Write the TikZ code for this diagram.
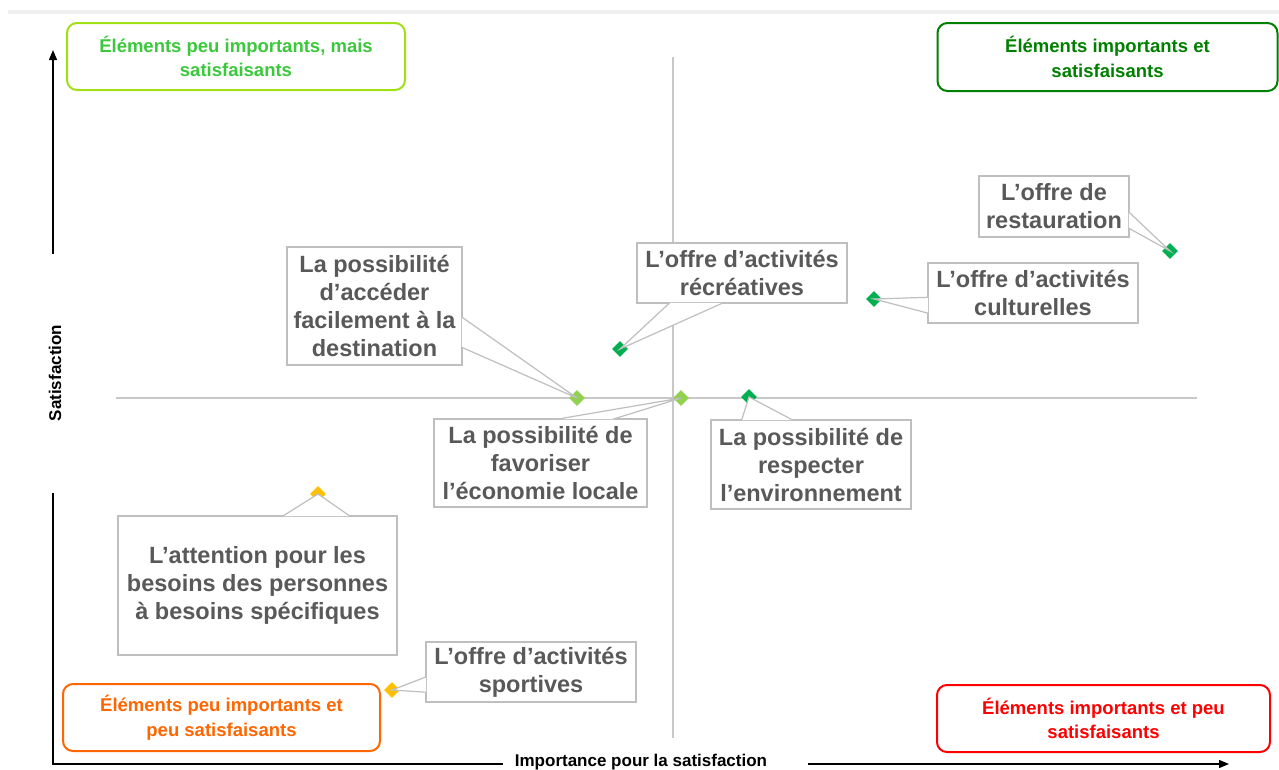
\documentclass[tikz,border=0pt]{standalone}
\usepackage{fontspec}
\setmainfont{Liberation Sans}
\usepackage{xcolor}
\usepackage{tikz}
\usetikzlibrary{shapes.geometric,arrows.meta,calc}

\definecolor{lightgr}{RGB}{146,208,80}
\definecolor{darkgr}{RGB}{0,176,80}
\definecolor{goldpt}{RGB}{255,192,0}
\definecolor{notegray}{RGB}{191,191,191}
\definecolor{notetext}{RGB}{89,89,89}
\definecolor{quadline}{RGB}{200,200,200}
\definecolor{limeline}{RGB}{160,224,20}
\definecolor{limetext}{RGB}{60,200,60}
\definecolor{greenq}{RGB}{0,128,0}
\definecolor{orangeq}{RGB}{255,102,0}
\definecolor{redq}{RGB}{255,0,0}

% callout pointer: base point, base point, marker
\newcommand{\pointer}[3]{%
  \fill[white] (#1) -- (#3.center) -- (#2) -- cycle;
  \draw[notegray, line width=1.2pt] (#1) -- (#3.center) -- (#2);
}

\tikzset{
  datapt/.style={diamond, inner sep=0pt, minimum size=16pt},
  note/.style={draw=notegray, line width=1.2pt, fill=white, align=center, inner sep=0pt,
    text=notetext, font=\fontsize{23.5}{28}\selectfont\bfseries},
  quad/.style={rounded corners=10pt, line width=2pt, fill=white, align=center, inner sep=0pt,
    font=\fontsize{18.5}{24.5}\selectfont\bfseries},
  axlabel/.style={font=\fontsize{17}{20}\selectfont\bfseries}
}

\begin{document}
\begin{tikzpicture}[x=1pt, y=-1pt]
    \useasboundingbox (0,0) rectangle (1279,769);

    % Draw the top band
    \fill[black!6] (8,10) rectangle (1279,14);

    % Draw the axes
    \draw[line width=1.3pt, -{Triangle[length=10pt,width=8pt]}] (53,254) -- (53,50);
    \draw[line width=1.3pt] (53,493) -- (53,764) -- (503,764);
    \draw[line width=1.3pt, -{Triangle[length=10pt,width=8pt]}] (808,764) -- (1229,764);
    \node[axlabel] (xlab) at (641,762) {Importance pour la satisfaction};
    \node[axlabel, rotate=90] (ylab) at (55,373) {Satisfaction};

    % Draw the quadrant lines
    \draw[quadline, line width=1.3pt] (116,398) -- (1197,398);
    \draw[quadline, line width=1.3pt] (673,57) -- (673,738);

    % Draw the data points
    \node[datapt, fill=lightgr] (pAcces) at (577,398) {};
    \node[datapt, fill=darkgr] (pRecre) at (620,349) {};
    \node[datapt, fill=darkgr] (pResto) at (1170,251) {};
    \node[datapt, fill=darkgr] (pCultu) at (874,299) {};
    \node[datapt, fill=lightgr] (pEcono) at (681,398) {};
    \node[datapt, fill=darkgr] (pEnvir) at (749,397) {};
    \node[datapt, fill=goldpt] (pBesoin) at (318,494) {};
    \node[datapt, fill=goldpt] (pSport) at (392,690) {};

    % Draw the callouts
    \node[note, minimum width=175pt, minimum height=118pt] (nAcces) at (374.5,306)
        {La possibilité\\d’accéder\\facilement à la\\destination};
    \pointer{$($(nAcces.north east)!.593!(nAcces.south east)$)+(-0.7,0)$}
            {$($(nAcces.north east)!.847!(nAcces.south east)$)+(-0.7,0)$}{pAcces}

    \node[note, minimum width=210pt, minimum height=60pt] (nRecre) at (742,273)
        {L’offre d’activités\\récréatives};
    \pointer{$($(nRecre.south west)!.157!(nRecre.south east)$)+(0,-0.7)$}
            {$($(nRecre.south west)!.41!(nRecre.south east)$)+(0,-0.7)$}{pRecre}

    \node[note, minimum width=150pt, minimum height=61pt] (nResto) at (1054,206.5)
        {L’offre de\\restauration};
    \pointer{$($(nResto.north east)!.59!(nResto.south east)$)+(-0.7,0)$}
            {$($(nResto.north east)!.85!(nResto.south east)$)+(-0.7,0)$}{pResto}

    \node[note, minimum width=210pt, minimum height=60pt] (nCultu) at (1033,293)
        {L’offre d’activités\\culturelles};
    \pointer{$($(nCultu.north west)!.57!(nCultu.south west)$)+(0.7,0)$}
            {$($(nCultu.north west)!.83!(nCultu.south west)$)+(0.7,0)$}{pCultu}

    \node[note, minimum width=213pt, minimum height=88pt] (nEcono) at (540.5,463)
        {La possibilité de\\favoriser\\l’économie locale};
    \pointer{$($(nEcono.north west)!.58!(nEcono.north east)$)+(0,0.7)$}
            {$($(nEcono.north west)!.84!(nEcono.north east)$)+(0,0.7)$}{pEcono}

    \node[note, minimum width=200pt, minimum height=89pt] (nEnvir) at (811,464.5)
        {La possibilité de\\respecter\\l’environnement};
    \pointer{$($(nEnvir.north west)!.155!(nEnvir.north east)$)+(0,0.7)$}
            {$($(nEnvir.north west)!.41!(nEnvir.north east)$)+(0,0.7)$}{pEnvir}

    \node[note, minimum width=279pt, minimum height=139pt] (nBesoin) at (257.5,585.5)
        {L’attention pour les\\besoins des personnes\\à besoins spécifiques};
    \pointer{$($(nBesoin.north west)!.59!(nBesoin.north east)$)+(0,0.7)$}
            {$($(nBesoin.north west)!.83!(nBesoin.north east)$)+(0,0.7)$}{pBesoin}

    \node[note, minimum width=210pt, minimum height=60pt] (nSport) at (531,672)
        {L’offre d’activités\\sportives};
    \pointer{$($(nSport.north west)!.58!(nSport.south west)$)+(0.7,0)$}
            {$($(nSport.north west)!.83!(nSport.south west)$)+(0.7,0)$}{pSport}

    % Draw the quadrant boxes
    \node[quad, draw=limeline, text=limetext, minimum width=338pt, minimum height=67pt] (qTL) at (236,56.5)
        {Éléments peu importants, mais\\satisfaisants};
    \node[quad, draw=greenq, text=greenq, minimum width=340pt, minimum height=68pt] (qTR) at (1107.5,57)
        {Éléments importants et\\satisfaisants};
    \node[quad, draw=orangeq, text=orangeq, minimum width=317pt, minimum height=67pt] (qBL) at (221.5,717.5)
        {Éléments peu importants et\\peu satisfaisants};
    \node[quad, draw=redq, text=redq, minimum width=333pt, minimum height=67pt] (qBR) at (1103.5,718.5)
        {Éléments importants et peu\\satisfaisants};

\end{tikzpicture}
\end{document}
